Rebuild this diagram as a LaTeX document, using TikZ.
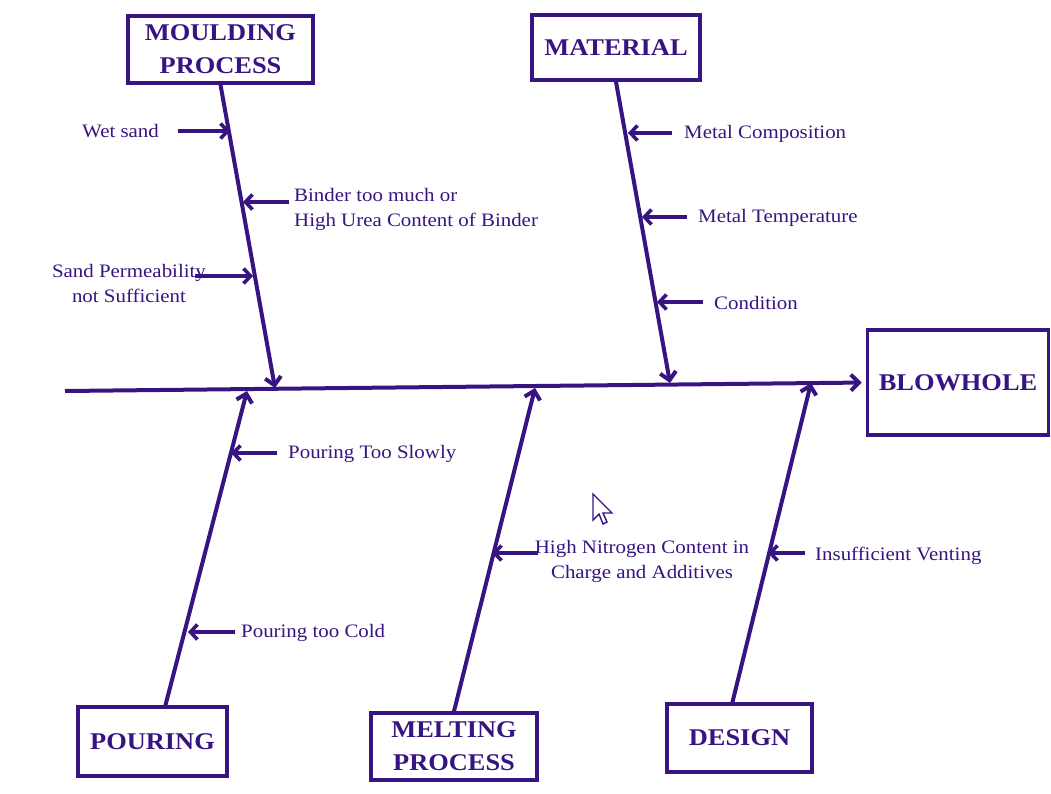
\documentclass[tikz,border=0pt]{standalone}
\usepackage{fontspec}
\setmainfont{Liberation Serif}[FakeStretch=1.1]
\usetikzlibrary{arrows.meta,calc}
\definecolor{ink}{RGB}{55,20,130}
\begin{document}
\begin{tikzpicture}[x=1pt,y=-1pt,
  head/.style={draw=ink, line width=3.6pt, text=ink, font=\fontsize{24}{33}\selectfont\bfseries, align=center, inner sep=0pt},
  lab/.style={text=ink, font=\fontsize{19}{25}\selectfont, inner sep=0pt},
  bone/.style={draw=ink, line width=4pt, -{Straight Barb[length=8pt,width=16pt]}},
  cause/.style={draw=ink, line width=3.6pt, -{Straight Barb[length=7pt,width=15pt]}}]
\useasboundingbox[fill=white] (0,0) rectangle (1051,793);

% heads
\node[head, minimum width=185pt, minimum height=67pt] (mould) at (220.5,49.5) {MOULDING\\PROCESS};
\node[head, minimum width=168pt, minimum height=65pt] (mat) at (616,47.5) {MATERIAL};
\node[head, minimum width=181pt, minimum height=105pt] (blow) at (958,382.5) {BLOWHOLE};
\node[head, minimum width=149pt, minimum height=69pt] (pour) at (152.5,741.5) {POURING};
\node[head, minimum width=166pt, minimum height=67pt] (melt) at (454,746.5) {MELTING\\PROCESS};
\node[head, minimum width=145pt, minimum height=68pt] (des) at (739.5,738) {DESIGN};

% spine
\coordinate (tail) at (65,391);
\draw[bone, shorten >=4pt] (tail) -- (blow.west);

% branches
\coordinate (mB) at (275,388);
\coordinate (tB) at (670,383);
\coordinate (pB) at (247,391);
\coordinate (lB) at (535,388);
\coordinate (dB) at (811,383);
\coordinate (pT) at (165,707);
\coordinate (dT) at (732,704);
\draw[bone] (mould.south) -- (mB);
\draw[bone] (mat.south) -- (tB);
\draw[bone] (pT) -- (pB);
\draw[bone] (melt.north) -- (lB);
\draw[bone] (dT) -- (dB);

% moulding causes
\node[lab, anchor=west] (wet) at (82,131) {Wet sand};
\coordinate (wetS) at (178,131); \coordinate (wetE) at (230,131);
\draw[cause] (wetS) -- (wetE);
\node[lab, align=left, anchor=west] (binder) at (294,209) {Binder too much or\\High Urea Content of Binder};
\coordinate (binS) at (289,202); \coordinate (binE) at (243,202);
\draw[cause] (binS) -- (binE);
\node[lab, align=center] (perm) at (129,283.5) {Sand Permeability\\not Sufficient};
\coordinate (perS) at (195,276); \coordinate (perE) at (253,276);
\draw[cause] (perS) -- (perE);

% material causes
\node[lab, anchor=west] (comp) at (684,134) {Metal Composition};
\coordinate (compS) at (672,133); \coordinate (compE) at (628,133);
\draw[cause] (compS) -- (compE);
\node[lab, anchor=west] (temp) at (698,218) {Metal Temperature};
\coordinate (tempS) at (687,217); \coordinate (tempE) at (642,217);
\draw[cause] (tempS) -- (tempE);
\node[lab, anchor=west] (cond) at (714,303) {Condition};
\coordinate (condS) at (703,302); \coordinate (condE) at (657,302);
\draw[cause] (condS) -- (condE);

% pouring causes
\node[lab, anchor=west] (slow) at (288,454) {Pouring Too Slowly};
\coordinate (slowS) at (277,453); \coordinate (slowE) at (231,453);
\draw[cause] (slowS) -- (slowE);
\node[lab, anchor=west] (cold) at (241,633) {Pouring too Cold};
\coordinate (coldS) at (235,632); \coordinate (coldE) at (188,632);
\draw[cause] (coldS) -- (coldE);

% melting cause
\node[lab, align=center] (nitro) at (642,561) {High Nitrogen Content in\\Charge and Additives};
\coordinate (nitS) at (538,553); \coordinate (nitE) at (492,553);
\draw[cause] (nitS) -- (nitE);

% design cause
\node[lab, anchor=west] (vent) at (815,556) {Insufficient Venting};
\coordinate (venS) at (805,553); \coordinate (venE) at (768,553);
\draw[cause] (venS) -- (venE);

% mouse pointer
\coordinate (cur) at (593,494);
\draw[ink, line width=1.4pt, line join=miter, fill=white] (cur) -- ++(0,26) -- ++(6,-6) -- ++(4,10) -- ++(4,-2) -- ++(-4,-9) -- ++(9,0) -- cycle;
\end{tikzpicture}
\end{document}
